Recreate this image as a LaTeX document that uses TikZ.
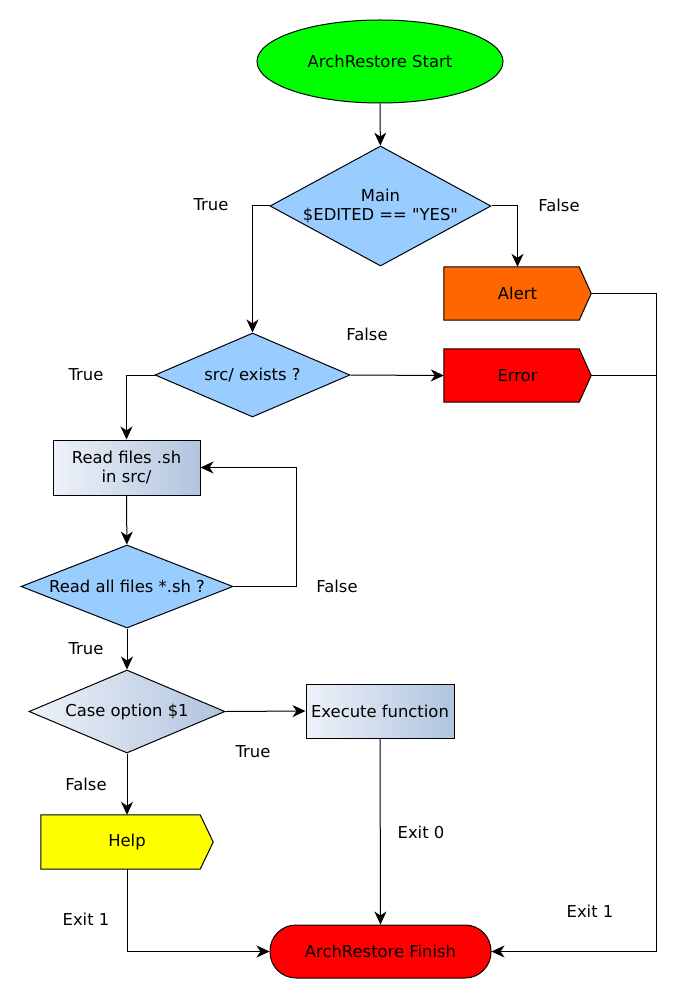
\documentclass[tikz,border=0pt]{standalone}
\usepackage{fontspec}
\setmainfont{DejaVu Sans}
\usetikzlibrary{shapes.geometric,arrows.meta,backgrounds}
\definecolor{lblue}{HTML}{99CCFF}
\definecolor{gradL}{HTML}{EEF2F9}
\definecolor{gradR}{HTML}{B0C4DE}
\definecolor{startgreen}{HTML}{00FF00}
\definecolor{alertorange}{HTML}{FF6600}
\definecolor{errred}{HTML}{FF0000}
\definecolor{helpyellow}{HTML}{FFFF00}
\tikzset{
  base/.style={draw=black, line width=1pt, inner sep=0pt, align=center},
  startbox/.style={base, ellipse, fill=startgreen, minimum width=246pt, minimum height=83pt},
  decision/.style={base, diamond, fill=lblue},
  gdecision/.style={base, diamond, left color=gradL, right color=gradR},
  procbox/.style={base, rectangle, left color=gradL, right color=gradR},
  sigbox/.style={inner sep=0pt, align=center, minimum width=147pt, minimum height=53pt},
  finishbox/.style={base, rectangle, rounded corners=26pt, fill=errred, minimum width=221pt, minimum height=53pt},
  lbl/.style={inner sep=0pt},
  conn/.style={line width=1pt},
  arr/.style={conn, -{Stealth[length=13pt,width=12pt,inset=4pt]}},
}
\begin{document}
\begin{tikzpicture}[x=1pt,y=-1pt,font=\fontsize{16.4}{19}\selectfont]
\useasboundingbox (0,0) rectangle (676,1000);

\node[startbox] (start) at (380,61.5) {ArchRestore Start};
\node[decision, minimum width=221pt, minimum height=120pt, shape aspect=1.84] (main) at (380.5,206) {Main\\\$EDITED == \textquotedbl YES\textquotedbl};
\node[sigbox] (alert) at (517.5,293.5) {Alert};
\node[decision, minimum width=195pt, minimum height=84pt, shape aspect=2.32] (src) at (252.5,375) {src/ exists ?};
\node[sigbox] (error) at (517.5,375.5) {Error};
\node[procbox, minimum width=147pt, minimum height=55pt] (read) at (126.5,467.5) {Read files .sh\\in src/};
\node[decision, minimum width=212pt, minimum height=83pt, shape aspect=2.55] (readall) at (127,586.5) {Read all files *.sh ?};
\node[gdecision, minimum width=196pt, minimum height=83pt, shape aspect=2.36] (case) at (127,711.5) {Case option \$1};
\node[procbox, minimum width=148pt, minimum height=54pt] (exec) at (380,711) {Execute function};
\node[sigbox, minimum width=172pt, minimum height=54pt] (help) at (127,842) {Help};
\node[finishbox] (finish) at (380.5,951.5) {ArchRestore Finish};

\begin{scope}[on background layer]
\fill[white] (0,0) rectangle (676,1000);
\draw[conn, fill=alertorange] (alert.north west) -- ([xshift=-12pt]alert.north east) -- (alert.east) -- ([xshift=-12pt]alert.south east) -- (alert.south west) -- cycle;
\draw[conn, fill=errred] (error.north west) -- ([xshift=-12pt]error.north east) -- (error.east) -- ([xshift=-12pt]error.south east) -- (error.south west) -- cycle;
\draw[conn, fill=helpyellow] (help.north west) -- ([xshift=-13pt]help.north east) -- (help.east) -- ([xshift=-13pt]help.south east) -- (help.south west) -- cycle;
\end{scope}

\coordinate (rj) at (656,951.5);
\coordinate (loopc) at (296,586.5);

\draw[arr] (start) -- (main);
\draw[arr] (main.west) -| (src.north);
\draw[arr] (main.east) -| (alert.north);
\draw[conn] (alert.east) -| (rj);
\draw[conn] (error.east) -| (rj);
\draw[arr] (rj) -- (finish.east);
\draw[arr] (src.east) -- (error.west);
\draw[arr] (src.west) -| (read.north);
\draw[arr] (read) -- (readall);
\draw[arr] (readall.east) -- (loopc) |- (read.east);
\draw[arr] (readall) -- (case);
\draw[arr] (case.east) -- (exec.west);
\draw[arr] (exec) -- (finish);
\draw[arr] (case) -- (help);
\draw[arr] (help.south) |- (finish.west);

\node[lbl] (l1) at (211,205) {True};
\node[lbl] (l2) at (559,205) {False};
\node[lbl] (l3) at (367,334) {False};
\node[lbl] (l4) at (86,375) {True};
\node[lbl] (l5) at (337,586) {False};
\node[lbl] (l6) at (86,649) {True};
\node[lbl] (l7) at (253,752) {True};
\node[lbl] (l8) at (421,832) {Exit 0};
\node[lbl] (l9) at (86,784) {False};
\node[lbl] (l10) at (86,919) {Exit 1};
\node[lbl] (l11) at (590,911) {Exit 1};
\end{tikzpicture}
\end{document}
